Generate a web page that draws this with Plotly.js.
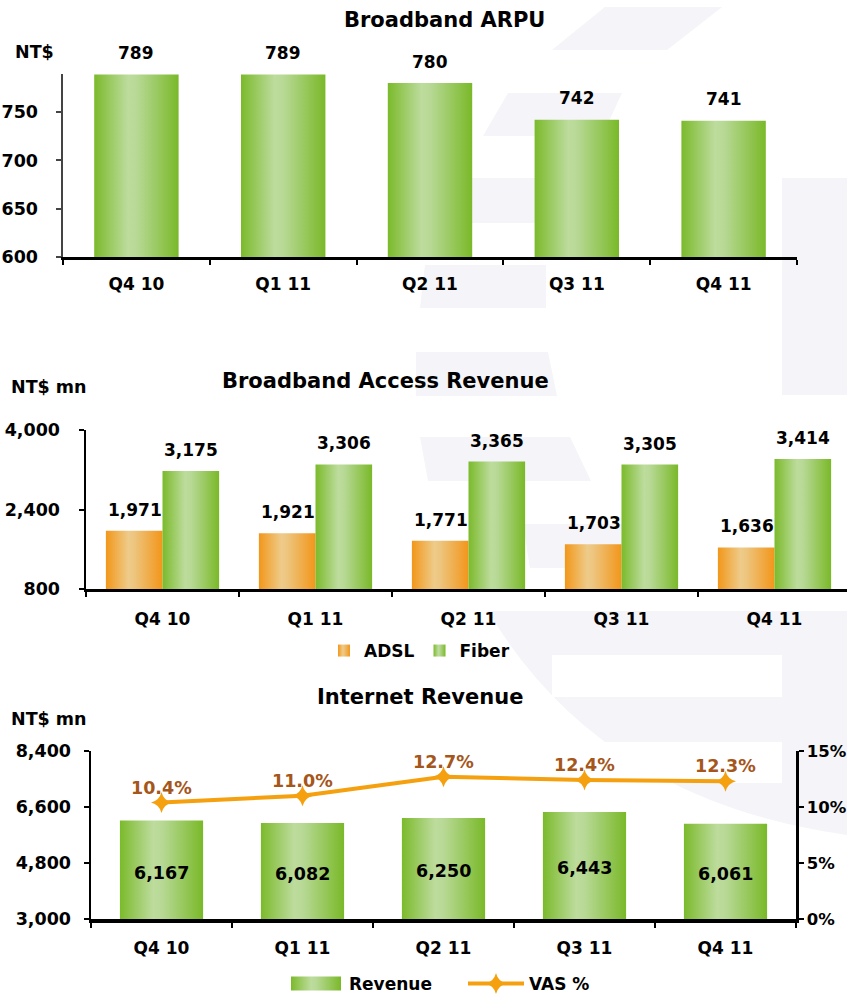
<!DOCTYPE html>
<html><head><meta charset="utf-8">
<script src="https://cdn.plot.ly/plotly-3.0.1.min.js"></script>
<style>html,body{margin:0;padding:0;background:#fff;overflow:hidden;}#chart{width:847px;height:995px;}</style>
</head><body><div id="chart"></div>
<script>
// ---------- data ----------
const cats = ['Q4 10', 'Q1 11', 'Q2 11', 'Q3 11', 'Q4 11'];
const arpu = [789, 789, 780, 742, 741];
const adsl = [1971, 1921, 1771, 1703, 1636];
const fiber = [3175, 3306, 3365, 3305, 3414];
const internetRev = [6167, 6082, 6250, 6443, 6061];
const vasPct = [10.4, 11.0, 12.7, 12.4, 12.3];
const arpuTicks = [600, 650, 700, 750];
const accessTicks = [800, 2400, 4000];
const internetTicks = [3000, 4800, 6600, 8400];
const vasTicks = [0, 5, 10, 15];
const vasTickText = ['0%', '5%', '10%', '15%'];

// ---------- helpers ----------
const W = 847, H = 995;
const px = x => x / W;
const py = y => 1 - y / H;
const FONT = 'DejaVu Sans';
const f = (size, color) => ({family: FONT, size: size, color: color || '#000', weight: 'bold'});
const GREEN = '#7bba2b', ORANGE = '#f2971a';
const LINE_OR = '#f5a00f', LABEL_BR = '#a5561a';
const bounds = cats.map((_, i) => i - 0.5).concat([cats.length - 0.5]);

const r1 = [600, 789.4], r2 = [800, 4000], r3 = [3000, 8400], r7 = [0, 15];
const xr = [-0.5, 4.5], xr2 = [-0.5, -0.5 + 761 / 153];

// ---------- traces ----------
const traces = [
  {type: 'bar', x: cats, y: arpu, xaxis: 'x', yaxis: 'y', width: 0.575,
   marker: {color: GREEN}, showlegend: false},
  {type: 'bar', name: 'ADSL', x: cats, y: adsl, xaxis: 'x2', yaxis: 'y2',
   offset: -0.37, width: 0.37, marker: {color: ORANGE}, legend: 'legend'},
  {type: 'bar', name: 'Fiber', x: cats, y: fiber, xaxis: 'x2', yaxis: 'y2',
   offset: 0, width: 0.37, marker: {color: GREEN}, legend: 'legend'},
  {type: 'bar', name: 'Revenue', x: cats, y: internetRev, xaxis: 'x3', yaxis: 'y3', width: 0.59,
   marker: {color: GREEN}, legend: 'legend2'},
  {type: 'scatter', mode: 'lines+markers', name: 'VAS %', x: cats, y: vasPct, xaxis: 'x3', yaxis: 'y7',
   line: {color: LINE_OR, width: 4}, marker: {symbol: 'star-diamond', size: 15, color: LINE_OR},
   legend: 'legend2', cliponaxis: false}
];

// ---------- axes ----------
function catAxis(domain, anchor, range, lw, standoff) {
  return {domain: domain, anchor: anchor, type: 'category', categoryarray: cats, range: range,
    showline: true, linecolor: '#000', linewidth: lw, ticks: 'outside', tickson: 'boundaries',
    ticklen: 5, tickwidth: 2, tickcolor: '#000', tickfont: f(17), showgrid: false, zeroline: false,
    ticklabelstandoff: standoff, fixedrange: true};
}
function valAxis(domain, anchor, range, tickvals, lc, standoff, extra) {
  return Object.assign({domain: domain, anchor: anchor, range: range, tickvals: tickvals,
    tickformat: ',', showline: true, linecolor: lc, linewidth: 2.5, ticks: 'outside', ticklen: 5,
    tickwidth: 2, tickcolor: lc, tickfont: f(17.5), showgrid: false, zeroline: false,
    ticklabelstandoff: standoff, fixedrange: true}, extra || {});
}
function ovAxis(over, anchor, range, tickvals, lc, extra) {
  return Object.assign({overlaying: over, anchor: anchor, type: 'linear', range: range,
    tickvals: tickvals, ticks: 'inside', ticklen: 5, tickwidth: 2, tickcolor: lc || '#000',
    showticklabels: false, showgrid: false, zeroline: false, showline: false, fixedrange: true},
    extra || {});
}

// ---------- annotations ----------
const ann = [];
const title = (text, cx, cy) => ann.push({text: text, xref: 'paper', yref: 'paper', x: px(cx), y: py(cy),
  xanchor: 'center', yanchor: 'middle', showarrow: false, font: f(21)});
title('Broadband ARPU', 445, 20);
title('Broadband Access Revenue', 385, 381);
title('Internet Revenue', 420, 697);
const unit = (text, lx, cy) => ann.push({text: text, xref: 'paper', yref: 'paper', x: px(lx), y: py(cy),
  xanchor: 'left', yanchor: 'middle', showarrow: false, font: f(17.5)});
unit('NT$', 13, 52);
unit('NT$ mn', 9, 387);
unit('NT$ mn', 9, 719);

cats.forEach((c, i) => {
  ann.push({text: arpu[i].toLocaleString('en-US'), x: c, y: arpu[i], xref: 'x', yref: 'y',
    showarrow: false, yanchor: 'middle', yshift: 21.5, font: f(17)});
  ann.push({text: adsl[i].toLocaleString('en-US'), x: c, y: adsl[i], xref: 'x2', yref: 'y2',
    showarrow: false, yanchor: 'middle', yshift: 21, xshift: -28, font: f(17)});
  ann.push({text: fiber[i].toLocaleString('en-US'), x: c, y: fiber[i], xref: 'x2', yref: 'y2',
    showarrow: false, yanchor: 'middle', yshift: 21, xshift: 28, font: f(17)});
  // revenue value centred in the visible part of its bar
  ann.push({text: internetRev[i].toLocaleString('en-US'), x: c, y: (r3[0] + internetRev[i]) / 2,
    xref: 'x3', yref: 'y3', showarrow: false, yanchor: 'middle', yshift: -3, font: f(17.5)});
  ann.push({text: vasPct[i].toFixed(1) + '%', x: c, y: vasPct[i], xref: 'x3', yref: 'y7',
    showarrow: false, yanchor: 'middle', yshift: 15, font: f(17.5, LABEL_BR)});
});

// ---------- watermark ----------
const WM = '#f4f4f9';
const poly = pts => 'M' + pts.map(p => px(p[0]).toFixed(4) + ',' + py(p[1]).toFixed(4)).join(' L') + ' Z';
const shp = (path, color) => ({type: 'path', xref: 'paper', yref: 'paper', path: path,
  fillcolor: color || WM, line: {width: 0}, layer: 'below'});
const curve = 'M' + px(488) + ',' + py(611) + ' L' + px(847) + ',' + py(611) + ' L' + px(847) + ',' + py(835) +
  ' Q' + px(600) + ',' + py(800) + ' ' + px(488) + ',' + py(611) + ' Z';
const shapes = [
  shp(poly([[605, 7], [722, 7], [667, 50], [552, 50]])),
  shp(poly([[508, 93], [622, 93], [602, 136], [483, 136]])),
  shp(poly([[455, 178], [535, 178], [535, 223], [455, 223]])),
  shp(poly([[782, 178], [847, 178], [847, 395], [782, 395]])),
  shp(poly([[425, 265], [546, 265], [546, 308], [420, 308]])),
  shp(poly([[416, 352], [548, 352], [557, 396], [416, 396]])),
  shp(poly([[420, 437], [570, 437], [591, 481], [428, 481]])),
  shp(poly([[523, 524], [640, 524], [640, 568], [530, 568]])),
  shp(curve),
  shp(poly([[552, 655], [782, 655], [782, 697], [552, 697]]), '#ffffff'),
  shp(poly([[450, 742], [782, 742], [782, 783], [450, 783]]), '#ffffff')
];

const layout = {
  width: W, height: H, margin: {l: 0, r: 0, t: 0, b: 0, autoexpand: false},
  paper_bgcolor: '#fff', plot_bgcolor: 'rgba(0,0,0,0)',
  barmode: 'overlay', font: f(17), hovermode: false,
  xaxis: catAxis([px(63), px(797)], 'y', xr, 3, 10),
  yaxis: valAxis([py(257), py(74)], 'x', r1, arpuTicks, '#444', 14),
  xaxis2: catAxis([px(86), 1], 'y2', xr2, 3, 13),
  yaxis2: valAxis([py(589), py(430)], 'x2', r2, accessTicks, '#000', 15),
  xaxis3: catAxis([px(91), px(796)], 'y3', xr, 3.5, 11),
  yaxis3: valAxis([py(919), py(751)], 'x3', r3, internetTicks, '#000', 9),
  yaxis7: valAxis([py(919), py(751)], 'x3', r7, vasTicks, '#000', 0,
    {overlaying: 'y3', side: 'right', tickmode: 'array', ticktext: vasTickText, tickformat: '',
     tickfont: f(16.5)}),
  xaxis4: ovAxis('x', 'y', xr, bounds),
  yaxis4: ovAxis('y', 'x', r1, arpuTicks, '#444'),
  xaxis5: ovAxis('x2', 'y2', xr2, bounds),
  yaxis5: ovAxis('y2', 'x2', r2, accessTicks),
  xaxis6: ovAxis('x3', 'y3', xr, bounds),
  yaxis6: ovAxis('y3', 'x3', r3, internetTicks),
  yaxis8: ovAxis('y3', 'x3', r7, vasTicks, '#000', {side: 'right'}),
  legend: {orientation: 'h', x: px(324), xanchor: 'left', y: py(651), yanchor: 'middle',
    font: f(17), bgcolor: 'rgba(0,0,0,0)', itemwidth: 30, traceorder: 'normal'},
  legend2: {orientation: 'h', x: px(283), xanchor: 'left', y: py(984), yanchor: 'middle',
    font: f(17), bgcolor: 'rgba(0,0,0,0)', itemwidth: 56, traceorder: 'normal',
    entrywidth: 109, entrywidthmode: 'pixels'},
  annotations: ann,
  shapes: shapes
};

function addGradients(gd) {
  const ns = 'http://www.w3.org/2000/svg';
  const svg = gd.querySelector('svg.main-svg');
  let defs = svg.querySelector('defs');
  if (!defs) { defs = document.createElementNS(ns, 'defs'); svg.insertBefore(defs, svg.firstChild); }
  const make = (id, stops) => {
    const lg = document.createElementNS(ns, 'linearGradient');
    lg.setAttribute('id', id);
    lg.setAttribute('x1', '0'); lg.setAttribute('x2', '1'); lg.setAttribute('y1', '0'); lg.setAttribute('y2', '0');
    stops.forEach(s => {
      const st = document.createElementNS(ns, 'stop');
      st.setAttribute('offset', s[0]); st.setAttribute('stop-color', s[1]);
      lg.appendChild(st);
    });
    defs.appendChild(lg);
  };
  make('gGreen', [[0, '#7bba2b'], [0.4, '#bddc9d'], [0.5, '#b8d996'], [1, '#7ab929']]);
  make('gOrange', [[0, '#f2971a'], [0.4, '#eecb8a'], [0.5, '#edc57e'], [1, '#f2961a']]);
  const map = {'rgb(123, 186, 43)': 'url(#gGreen)', 'rgb(242, 151, 26)': 'url(#gOrange)'};
  gd.querySelectorAll('.barlayer .point path, .legendpoints path').forEach(p => {
    const k = p.style.fill;
    if (map[k]) p.style.fill = map[k];
  });
  gd.querySelectorAll('.legend2 .legendpoints path').forEach(p => {
    if ((p.style.fill || '').indexOf('gGreen') >= 0) p.setAttribute('d', 'M25,7H-25V-7H25Z');
  });
}

Plotly.newPlot('chart', traces, layout, {staticPlot: true, displayModeBar: false})
  .then(gd => addGradients(gd));
</script>
</body></html>
